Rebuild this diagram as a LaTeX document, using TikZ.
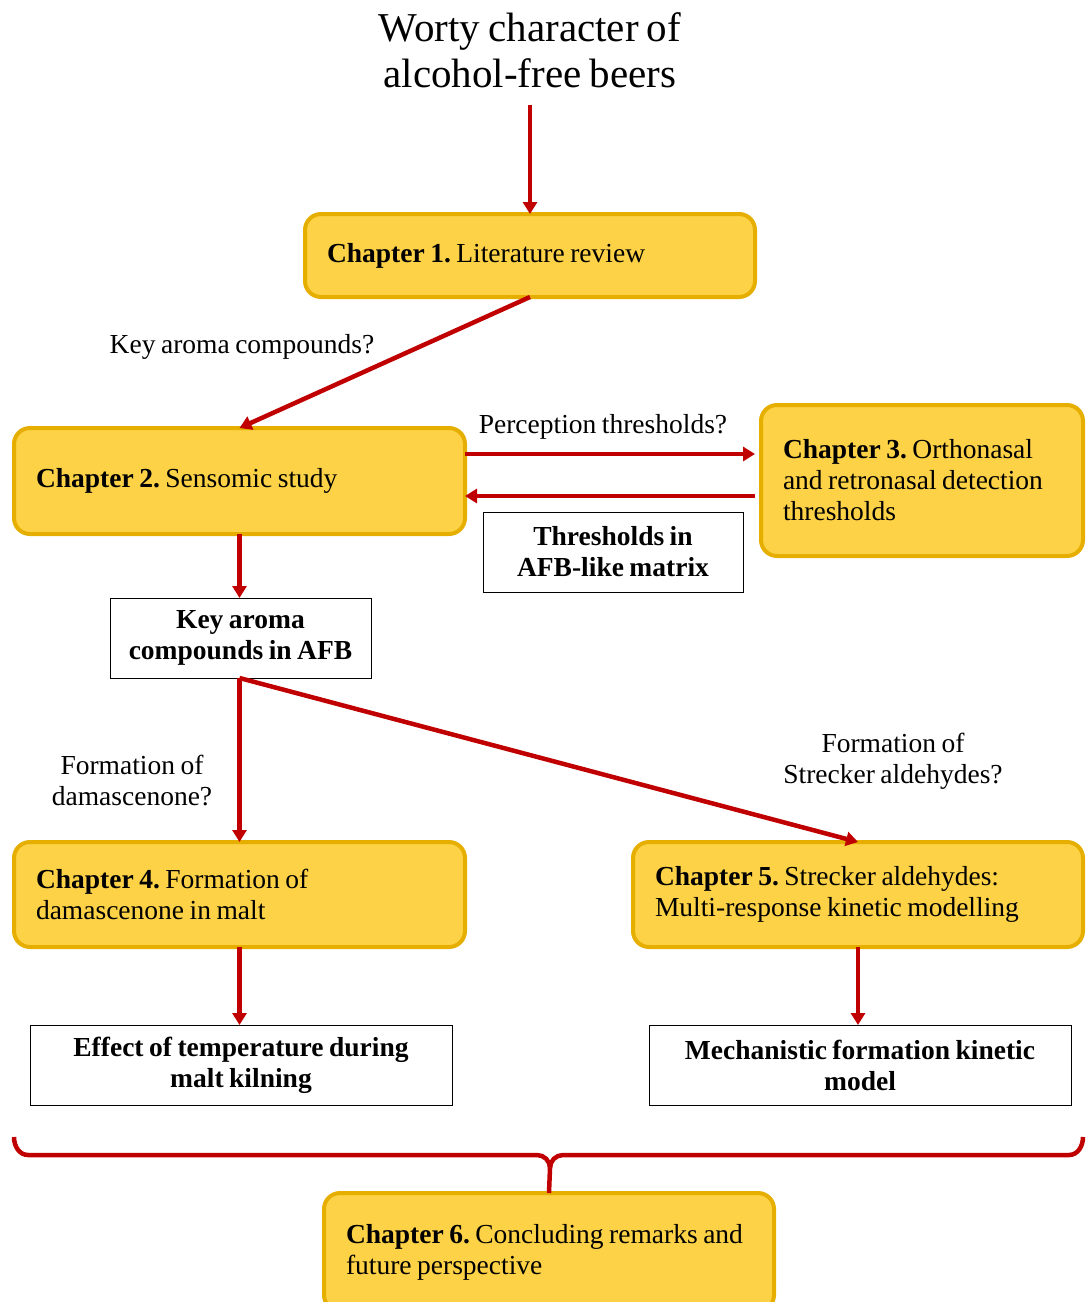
\documentclass[tikz,border=0pt]{standalone}
\usepackage{fontspec}
\setmainfont[WordSpace=0.8]{Liberation Serif}
\usetikzlibrary{arrows.meta,calc}
\definecolor{ybox}{HTML}{FDD246}
\definecolor{yborder}{HTML}{E6AF00}
\definecolor{redarr}{HTML}{C00000}
\frenchspacing
\begin{document}
\begin{tikzpicture}[x=1pt,y=-1pt,
 chap/.style={draw=yborder, fill=ybox, line width=4pt, rounded corners=16pt, inner xsep=22pt, inner ysep=0pt, outer sep=0pt, align=flush left, font=\fontsize{27.5}{31}\selectfont, anchor=north west},
 res/.style={draw=black, line width=1pt, fill=white, align=flush center, font=\bfseries\fontsize{27.5}{31}\selectfont, inner sep=0pt, outer sep=0pt, anchor=north west},
 lbl/.style={align=center, font=\fontsize{27.5}{31}\selectfont, inner sep=0pt},
 arr/.style={draw=redarr, line width=4.5pt, -{Triangle[length=12pt,width=14pt]}},
 brace/.style={draw=redarr, line width=4.5pt},
]
\useasboundingbox (0,0) rectangle (1086,1302);
% chapter boxes
\node[chap, text width=406pt, minimum width=450pt, minimum height=83pt] (ch1) at (305,214) {\textbf{Chapter 1.} Literature~review};
\node[chap, text width=407pt, minimum width=451pt, minimum height=106pt] (ch2) at (14,428) {\textbf{Chapter 2.} Sensomic~study};
\node[chap, text width=278pt, minimum width=322pt, minimum height=151pt] (ch3) at (761,405) {\textbf{Chapter~3.}~Orthonasal\\and~retronasal~detection\\thresholds};
\node[chap, text width=407pt, minimum width=451pt, minimum height=105pt] (ch4) at (14,842) {\textbf{Chapter 4.} Formation~of\\damascenone~in~malt};
\node[chap, text width=406pt, minimum width=450pt, minimum height=105pt] (ch5) at (633,842) {\textbf{Chapter~5.}~Strecker~aldehydes:\\Multi-response~kinetic~modelling};
\node[chap, text width=406pt, minimum width=450pt, minimum height=118pt] (ch6) at (324,1193) {\textbf{Chapter~6.}~Concluding~remarks~and\\future~perspective};
% result boxes
\node[res, text width=260pt, minimum height=80pt] (thr) at (483,512) {Thresholds in\\AFB-like matrix};
\node[res, text width=261pt, minimum height=80pt] (key) at (110,598) {Key aroma\\compounds in AFB};
\node[res, text width=422pt, minimum height=80pt] (eff) at (30,1025) {Effect of temperature during\\malt kilning};
\node[res, text width=422pt, minimum height=80pt] (mech) at (649,1025) {Mechanistic formation kinetic\\model};
% labels
\node[lbl, font=\fontsize{41}{46}\selectfont] (title) at (530,50) {Worty character of\\alcohol-free beers};
\node[lbl] (l1) at (242,347) {Key aroma compounds?};
\node[lbl] (l2) at (603,427) {Perception thresholds?};
\node[lbl] (l3) at (132,781) {Formation of\\damascenone?};
\node[lbl] (l4) at (893,761) {Formation of\\Strecker aldehydes?};
% arrows
\coordinate (t0) at (530,105);
\draw[arr] (t0) -- (ch1.north);
\draw[arr] (ch1.south) -- (ch2.north);
\draw[arr] (ch2.east |- 0,454) -- ($(ch3.west |- 0,454)+(-6,0)$);
\draw[arr] ($(ch3.west |- 0,496)+(-6,0)$) -- (ch2.east |- 0,496);
\draw[arr] (ch2.south) -- (key.north -| ch2.south);
\draw[arr] (key.south -| ch2.south) -- (ch4.north);
\draw[arr] (key.south -| ch2.south) -- (ch5.north);
\draw[arr] (ch4.south) -- (eff.north -| ch4.south);
\draw[arr] (ch5.south) -- (mech.north -| ch5.south);
% brace
\coordinate (bl) at (14,1137);
\coordinate (br) at (1083,1137);
\draw[brace] (bl) to[out=-90,in=180] (28,1155) -- (537,1155) to[out=0,in=90] (550,1168) -- (ch6.north);
\draw[brace] (br) to[out=-90,in=0] (1069,1155) -- (563,1155) to[out=180,in=90] (550,1168);
\end{tikzpicture}
\end{document}
